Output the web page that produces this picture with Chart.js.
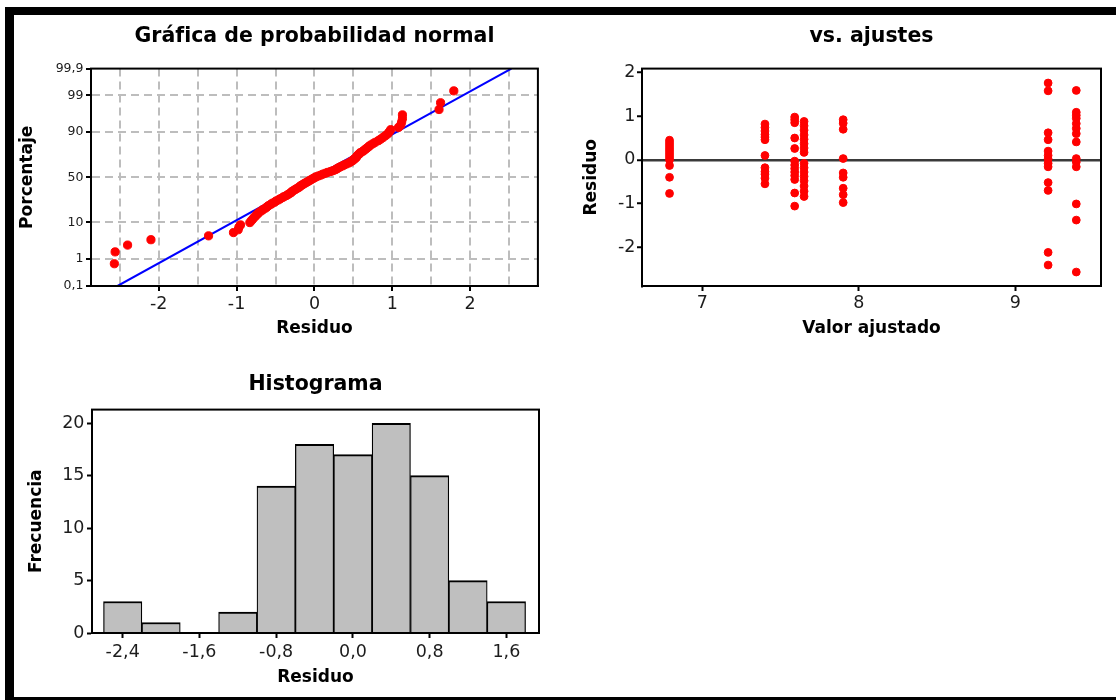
<!DOCTYPE html>
<html lang="es">
<head>
<meta charset="utf-8">
<title>Gráficas de residuos</title>
<script src="https://cdn.jsdelivr.net/npm/chart.js@4.4.1/dist/chart.umd.min.js"></script>
<style>
  html, body { margin: 0; padding: 0; background: #fff; }
  body { width: 1116px; height: 700px; position: relative; overflow: hidden; }
  .frame {
    position: absolute; left: 5px; top: 7px; width: 1111px; height: 694px;
    box-sizing: border-box;
    border-top: 8px solid #000; border-left: 9px solid #000; border-bottom: 4px solid #000;
  }
  canvas { position: absolute; }
</style>
</head>
<body>
<div class="frame"></div>
<canvas id="probChart" width="529" height="327" style="left:14px;top:16px"></canvas>
<canvas id="fitsChart" width="532" height="327" style="left:574px;top:16px"></canvas>
<canvas id="histChart" width="529" height="332" style="left:14px;top:360px"></canvas>
<script>
"use strict"

// normal probability plot: ordered residuals and their plotting positions (%)
const probResid = [
  -2.57, -2.56, -2.40, -2.10, -1.36, -1.04, -0.98, -0.97, -0.95, -0.83,
  -0.81, -0.79, -0.77, -0.75, -0.73, -0.71, -0.68, -0.66, -0.63, -0.61,
  -0.59, -0.56, -0.54, -0.51, -0.49, -0.46, -0.44, -0.41, -0.39, -0.36,
  -0.34, -0.32, -0.30, -0.29, -0.27, -0.25, -0.23, -0.21, -0.19, -0.18,
  -0.16, -0.14, -0.12, -0.10, -0.08, -0.06, -0.04, -0.02, 0.00, 0.02,
  0.05, 0.08, 0.11, 0.14, 0.17, 0.21, 0.24, 0.27, 0.29, 0.31,
  0.33, 0.36, 0.38, 0.41, 0.44, 0.46, 0.48, 0.50, 0.51, 0.53,
  0.54, 0.55, 0.56, 0.58, 0.59, 0.62, 0.64, 0.66, 0.68, 0.70,
  0.72, 0.75, 0.78, 0.82, 0.85, 0.88, 0.91, 0.94, 0.96, 0.98,
  1.08, 1.11, 1.12, 1.13, 1.13, 1.60, 1.62, 1.79
];
const probPct = [
  0.7, 1.7, 2.7, 3.8, 4.8, 5.8, 6.8, 7.8, 8.8, 9.9,
  10.9, 11.9, 12.9, 13.9, 14.9, 16.0, 17.0, 18.0, 19.0, 20.0,
  21.0, 22.1, 23.1, 24.1, 25.1, 26.1, 27.1, 28.2, 29.2, 30.2,
  31.2, 32.2, 33.2, 34.2, 35.3, 36.3, 37.3, 38.3, 39.3, 40.3,
  41.4, 42.4, 43.4, 44.4, 45.4, 46.4, 47.5, 48.5, 49.5, 50.5,
  51.5, 52.5, 53.6, 54.6, 55.6, 56.6, 57.6, 58.6, 59.7, 60.7,
  61.7, 62.7, 63.7, 64.7, 65.8, 66.8, 67.8, 68.8, 69.8, 70.8,
  71.9, 72.9, 73.9, 74.9, 75.9, 76.9, 78.0, 79.0, 80.0, 81.0,
  82.0, 83.0, 84.0, 85.1, 86.1, 87.1, 88.1, 89.1, 90.1, 91.2,
  92.2, 93.2, 94.2, 95.2, 96.2, 97.3, 98.3, 99.3
];
// fitted normal line, drawn between the 0,1 % and 99,9 % levels
const lineResid = [-2.53, 2.53];
const linePct = [0.1, 99.9];
const probTicks = [0.1, 1, 10, 50, 90, 99, 99.9];
const probGrid = [-2.5, -2, -1.5, -1, -0.5, 0, 0.5, 1, 1.5, 2, 2.5];

// residuals against fitted values, one column per fitted value
const fittedValues = [6.79, 7.40, 7.59, 7.65, 7.90, 9.21, 9.39];
const resid679 = [0.45, 0.40, 0.35, 0.30, 0.25, 0.20, 0.15, 0.10, 0.05, 0.00, -0.13, -0.40, -0.77];
const resid740 = [0.82, 0.74, 0.66, 0.58, 0.52, 0.46, 0.10, -0.18, -0.27, -0.33, -0.42, -0.55];
const resid759 = [0.98, 0.92, 0.85, 0.50, 0.26, -0.03, -0.12, -0.20, -0.28, -0.36, -0.45, -0.76, -1.06];
const resid765 = [0.88, 0.78, 0.68, 0.57, 0.47, 0.37, 0.27, 0.17, -0.08, -0.18, -0.28, -0.38, -0.48, -0.60, -0.72, -0.84];
const resid790 = [0.92, 0.84, 0.70, 0.03, -0.30, -0.40, -0.65, -0.80, -0.98];
const resid921 = [1.76, 1.58, 0.62, 0.46, 0.20, 0.10, 0.02, -0.08, -0.16, -0.52, -0.70, -2.12, -2.41];
const resid939 = [1.59, 1.09, 1.02, 0.95, 0.83, 0.72, 0.60, 0.41, 0.03, -0.05, -0.16, -1.01, -1.38, -2.57];
const residGroups = [resid679, resid740, resid759, resid765, resid790, resid921, resid939];
const fitsXTicks = [7, 8, 9];
const fitsYTicks = [-2, -1, 0, 1, 2];

// histogram of residuals (bin width 0,4)
const binCenters = [-2.4, -2.0, -1.6, -1.2, -0.8, -0.4, 0.0, 0.4, 0.8, 1.2, 1.6];
const binCounts = [3, 1, 0, 2, 14, 18, 17, 20, 15, 5, 3];
const histXTicks = [-2.4, -1.6, -0.8, 0, 0.8, 1.6];
const histYTicks = [0, 5, 10, 15, 20];

const FAMILY = "'DejaVu Sans', sans-serif";
const font = (size, weight) => ({ family: FAMILY, size: size, weight: weight || 'normal' });
const comma = v => String(v).replace('.', ',');
const CLEAR = 'rgba(0,0,0,0)';
const TICK_COLOR = '#1c1c1c';

// inverse of the standard normal CDF (Acklam's rational approximation)
function normInv(p) {
  const a = [-3.969683028665376e+01, 2.209460984245205e+02, -2.759285104469687e+02,
             1.383577518672690e+02, -3.066479806614716e+01, 2.506628277459239e+00];
  const b = [-5.447609879822406e+01, 1.615858368580409e+02, -1.556989798598866e+02,
             6.680131188771972e+01, -1.328068155288572e+01];
  const c = [-7.784894002430293e-03, -3.223964580411365e-01, -2.400758277161838e+00,
             -2.549732539343734e+00, 4.374664141464968e+00, 2.938163982698783e+00];
  const d = [7.784695709041462e-03, 3.224671290700398e-01, 2.445134137142996e+00,
             3.754408661907416e+00];
  const lo = 0.02425;
  if (p < lo) {
    const q = Math.sqrt(-2 * Math.log(p));
    return (((((c[0] * q + c[1]) * q + c[2]) * q + c[3]) * q + c[4]) * q + c[5]) /
           ((((d[0] * q + d[1]) * q + d[2]) * q + d[3]) * q + 1);
  }
  if (p > 1 - lo) {
    const q = Math.sqrt(-2 * Math.log(1 - p));
    return -(((((c[0] * q + c[1]) * q + c[2]) * q + c[3]) * q + c[4]) * q + c[5]) /
            ((((d[0] * q + d[1]) * q + d[2]) * q + d[3]) * q + 1);
  }
  const q = p - 0.5;
  const r = q * q;
  return (((((a[0] * r + a[1]) * r + a[2]) * r + a[3]) * r + a[4]) * r + a[5]) * q /
         (((((b[0] * r + b[1]) * r + b[2]) * r + b[3]) * r + b[4]) * r + 1);
}

// standard normal CDF, used only to map pixels back to percentages
function normCdf(z) {
  const t = 1 / (1 + 0.2316419 * Math.abs(z));
  const poly = t * (0.319381530 + t * (-0.356563782 + t * (1.781477937 + t * (-1.821255978 + t * 1.330274429))));
  const tail = Math.exp(-z * z / 2) / Math.sqrt(2 * Math.PI) * poly;
  return z >= 0 ? 1 - tail : tail;
}

// percent axis spaced by normal quantiles
class ProbabilityScale extends Chart.Scale {
  static id = 'probability';
  static defaults = {};

  determineDataLimits() {
    const { min, max } = this.getUserBounds();
    this.min = min;
    this.max = max;
  }
  buildTicks() {
    return [];
  }
  configure() {
    super.configure();
    this._zMin = normInv(this.min / 100);
    this._zMax = normInv(this.max / 100);
  }
  getLabelForValue(value) {
    return comma(value);
  }
  getPixelForValue(value) {
    const z = normInv(value / 100);
    return this.getPixelForDecimal((z - this._zMin) / (this._zMax - this._zMin));
  }
  getValueForPixel(pixel) {
    const z = this._zMin + this.getDecimalForPixel(pixel) * (this._zMax - this._zMin);
    return normCdf(z) * 100;
  }
}
Chart.register(ProbabilityScale);

// black box around the plotting area
const frame = {
  id: 'frame',
  afterDatasetsDraw(chart) {
    const { ctx, chartArea: a } = chart;
    ctx.save();
    ctx.strokeStyle = '#000';
    ctx.lineWidth = 2;
    ctx.strokeRect(a.left, a.top, a.right - a.left, a.bottom - a.top);
    ctx.restore();
  }
};

// a little room on the right so the frame's right edge is not cut off
const common = {
  responsive: false,
  animation: false,
  events: [],
  layout: { padding: { left: 0, top: 0, bottom: 0, right: 4 } }
};

const chartTitle = (text, padding) => ({
  display: true, fullSize: false, text: text, color: '#000',
  font: font(20.5, 'bold'), padding: padding
});

const axisTitle = (text, padding) => ({
  display: true, text: text, color: '#000', font: font(17, 'bold'), padding: padding
});

// Gráfica de probabilidad normal
new Chart(document.getElementById('probChart'), {
  type: 'scatter',
  data: {
    datasets: [
      {
        data: probResid.map((x, i) => ({ x: x, y: probPct[i] })),
        backgroundColor: '#ff0000',
        borderColor: '#ff0000',
        borderWidth: 1,
        pointRadius: 4.1,
        order: 1
      },
      {
        data: lineResid.map((x, i) => ({ x: x, y: linePct[i] })),
        showLine: true,
        borderColor: '#0000ff',
        borderWidth: 2,
        pointRadius: 0,
        order: 2
      }
    ]
  },
  options: {
    ...common,
    plugins: {
      legend: { display: false },
      tooltip: { enabled: false },
      title: chartTitle('Gráfica de probabilidad normal', { top: 8, bottom: 20 })
    },
    scales: {
      x: {
        type: 'linear', min: -2.87, max: 2.87,
        afterBuildTicks: s => { s.ticks = probGrid.map(value => ({ value })); },
        afterFit: s => { s.height = 57; },
        ticks: {
          autoSkip: false, maxRotation: 0, padding: 2.5, color: TICK_COLOR, font: font(17.5),
          callback: v => Number.isInteger(v) ? String(v) : ''
        },
        grid: {
          color: '#bdbdbd', lineWidth: 2, tickLength: 5, tickWidth: 2,
          tickColor: c => (c.tick && Number.isInteger(c.tick.value)) ? '#000' : CLEAR
        },
        border: { color: '#000', width: 2, dash: [8, 5] },
        title: axisTitle('Residuo', { top: 0, bottom: 4 })
      },
      y: {
        type: 'probability', min: 0.1, max: 99.9,
        afterBuildTicks: s => { s.ticks = probTicks.map(value => ({ value })); },
        afterFit: s => { s.width = 77; },
        ticks: { autoSkip: false, padding: 2.5, color: TICK_COLOR, font: font(12.5), callback: comma },
        grid: {
          color: c => (c.tick && (c.tick.value === 0.1 || c.tick.value === 99.9)) ? CLEAR : '#bdbdbd',
          lineWidth: 2, tickLength: 5, tickWidth: 2, tickColor: '#000'
        },
        border: { color: '#000', width: 2, dash: [8, 5] },
        title: axisTitle('Porcentaje', { top: 3.5, bottom: 0 })
      }
    }
  },
  plugins: [frame]
});

// vs. ajustes
const fitPoints = [];
fittedValues.forEach((fv, k) => {
  residGroups[k].forEach(r => fitPoints.push({ x: fv, y: r }));
});

new Chart(document.getElementById('fitsChart'), {
  type: 'scatter',
  data: {
    datasets: [{
      data: fitPoints,
      backgroundColor: '#ff0000',
      borderColor: '#ff0000',
      borderWidth: 1,
      pointRadius: 3.9
    }]
  },
  options: {
    ...common,
    plugins: {
      legend: { display: false },
      tooltip: { enabled: false },
      title: chartTitle('vs. ajustes', { top: 8, bottom: 20 })
    },
    scales: {
      x: {
        type: 'linear', min: 6.614, max: 9.548,
        afterBuildTicks: s => { s.ticks = fitsXTicks.map(value => ({ value })); },
        afterFit: s => { s.height = 57; },
        ticks: { autoSkip: false, maxRotation: 0, padding: 1.5, color: TICK_COLOR, font: font(17.5) },
        grid: { drawOnChartArea: false, tickLength: 5, tickWidth: 2, tickColor: '#000' },
        border: { color: '#000', width: 2 },
        title: axisTitle('Valor ajustado', { top: 0, bottom: 4 })
      },
      y: {
        type: 'linear', min: -2.89, max: 2.09,
        afterBuildTicks: s => { s.ticks = fitsYTicks.map(value => ({ value })); },
        afterFit: s => { s.width = 68; },
        ticks: { autoSkip: false, padding: 1.5, color: TICK_COLOR, font: font(17.5), callback: v => String(v) },
        grid: {
          color: c => (c.tick && c.tick.value === 0) ? '#3a3a3a' : CLEAR,
          lineWidth: 2.5, tickLength: 5, tickWidth: 2, tickColor: '#000'
        },
        border: { color: '#000', width: 2 },
        title: axisTitle('Residuo', { top: 7.8, bottom: 0 })
      }
    }
  },
  plugins: [frame]
});

// Histograma
new Chart(document.getElementById('histChart'), {
  type: 'bar',
  data: {
    datasets: [{
      data: binCenters.map((x, i) => ({ x: x, y: binCounts[i] })),
      backgroundColor: '#bfbfbf',
      borderColor: '#000',
      borderWidth: { top: 2, left: 1.25, right: 1.25, bottom: 0 },
      barPercentage: 1,
      categoryPercentage: 1
    }]
  },
  options: {
    ...common,
    plugins: {
      legend: { display: false },
      tooltip: { enabled: false },
      title: chartTitle('Histograma', { top: 12, bottom: 13 })
    },
    scales: {
      x: {
        type: 'linear', min: -2.72, max: 1.94, offset: false,
        afterBuildTicks: s => { s.ticks = histXTicks.map(value => ({ value })); },
        afterFit: s => { s.height = 59; },
        ticks: {
          autoSkip: false, maxRotation: 0, padding: 4, color: TICK_COLOR, font: font(17.5),
          callback: v => v.toFixed(1).replace('.', ',')
        },
        grid: { offset: false, drawOnChartArea: false, tickLength: 5, tickWidth: 2, tickColor: '#000' },
        border: { color: '#000', width: 2 },
        title: axisTitle('Residuo', { top: 0, bottom: 4 })
      },
      y: {
        type: 'linear', min: 0, max: 21.3,
        afterBuildTicks: s => { s.ticks = histYTicks.map(value => ({ value })); },
        afterFit: s => { s.width = 78; },
        ticks: { autoSkip: false, padding: 2.5, color: TICK_COLOR, font: font(17.5) },
        grid: { drawOnChartArea: false, tickLength: 5, tickWidth: 2, tickColor: '#000' },
        border: { color: '#000', width: 2 },
        title: axisTitle('Frecuencia', { top: 12.4, bottom: 0 })
      }
    }
  },
  plugins: [frame]
});
</script>
</body>
</html>
